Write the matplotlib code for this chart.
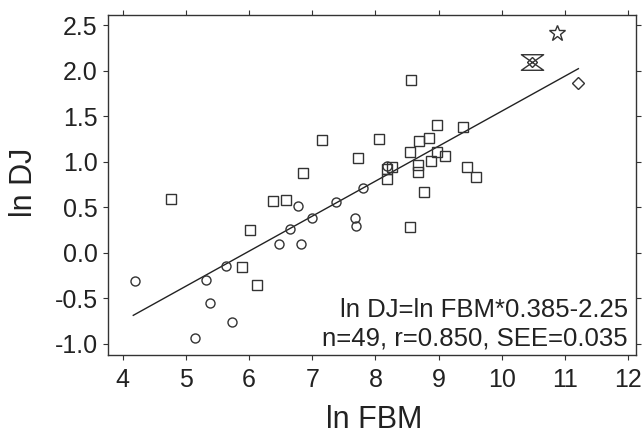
import matplotlib
matplotlib.use("Agg")
import matplotlib.pyplot as plt
from matplotlib.path import Path

plt.rcParams['font.family'] = ['Liberation Sans', 'DejaVu Sans']

# ln FBM / ln DJ values
circle_x = [4.20, 5.15, 5.32, 5.39, 5.64, 5.73, 6.47, 6.65, 6.77, 6.83,
            7.00, 7.37, 7.68, 7.69, 7.81, 8.18]
circle_y = [-0.31, -0.94, -0.30, -0.55, -0.15, -0.76, 0.09, 0.26, 0.51, 0.09,
            0.38, 0.55, 0.38, 0.29, 0.71, 0.95]

square_x = [4.76, 5.89, 6.01, 6.13, 6.38, 6.59, 6.86, 7.15, 7.72, 8.05,
            8.18, 8.18, 8.26, 8.54, 8.55, 8.57, 8.68, 8.68, 8.69, 8.77,
            8.84, 8.88, 8.97, 8.98, 9.10, 9.38, 9.45, 9.59]
square_y = [0.59, -0.16, 0.25, -0.36, 0.57, 0.58, 0.87, 1.24, 1.04, 1.25,
            0.92, 0.81, 0.94, 1.10, 0.28, 1.90, 0.96, 0.88, 1.22, 0.67,
            1.26, 1.01, 1.11, 1.40, 1.06, 1.38, 0.94, 0.83]

star_x, star_y = [10.87], [2.41]
glass_x, glass_y = [10.48], [2.09]
diamond_x, diamond_y = [11.21], [1.86]

fit_x = [4.17, 11.21]
fit_y = [-0.69, 2.02]

x_ticks = [4, 5, 6, 7, 8, 9, 10, 11, 12]
y_ticks = [-1.0, -0.5, 0.0, 0.5, 1.0, 1.5, 2.0, 2.5]

eq_text = "ln DJ=ln FBM*0.385-2.25"
stat_text = "n=49, r=0.850, SEE=0.035"

ink = '#333333'

fig = plt.figure(figsize=(6.42, 4.37), dpi=100)
ax = fig.add_axes([0.1687, 0.1876, 0.8215, 0.7781])

mk = dict(linestyle='none', markerfacecolor='none', markeredgecolor=ink,
          markeredgewidth=1.0)
ax.plot(fit_x, fit_y, color='#222222', lw=1.0)
ax.plot(circle_x, circle_y, marker='o', markersize=6.5, **mk)
ax.plot(square_x, square_y, marker='s', markersize=6.5, **mk)
ax.plot(star_x, star_y, marker='*', markersize=12, **mk)
hourglass = Path([(-1, 0.7), (1, 0.7), (-1, -0.7), (1, -0.7), (-1, 0.7)],
                 [Path.MOVETO, Path.LINETO, Path.LINETO, Path.LINETO, Path.CLOSEPOLY])
ax.plot(glass_x, glass_y, marker=hourglass, markersize=16, **mk)
ax.plot(glass_x, glass_y, marker='D', markersize=5, **mk)
ax.plot(diamond_x, diamond_y, marker='D', markersize=6.5, **mk)

ax.set_xlim(3.775, 12.117)
ax.set_ylim(-1.126, 2.61)
ax.set_xticks(x_ticks)
ax.set_yticks(y_ticks)
ax.set_yticklabels([f"{v:.1f}" for v in y_ticks])

ax.tick_params(direction='out', length=3.6, width=0.8, color=ink,
               labelsize=18, labelcolor='#222222',
               top=True, right=True)
ax.tick_params(axis='x', pad=6)
ax.tick_params(axis='y', pad=4)
for s in ax.spines.values():
    s.set_color(ink)
    s.set_linewidth(1.0)

ax.set_xlabel("ln FBM", fontsize=22, color='#222222')
ax.set_ylabel("ln DJ", fontsize=22, color='#222222')
ax.xaxis.set_label_coords(0.504, -0.147)
ax.yaxis.set_label_coords(-0.131, 0.509)

ax.text(0.9854, 0.1126, eq_text, transform=ax.transAxes, ha='right',
        va='baseline', fontsize=18.5, color='#222222')
ax.text(0.9854, 0.0274, stat_text, transform=ax.transAxes, ha='right',
        va='baseline', fontsize=18.5, color='#222222')

fig.savefig("out.png", dpi=100)
